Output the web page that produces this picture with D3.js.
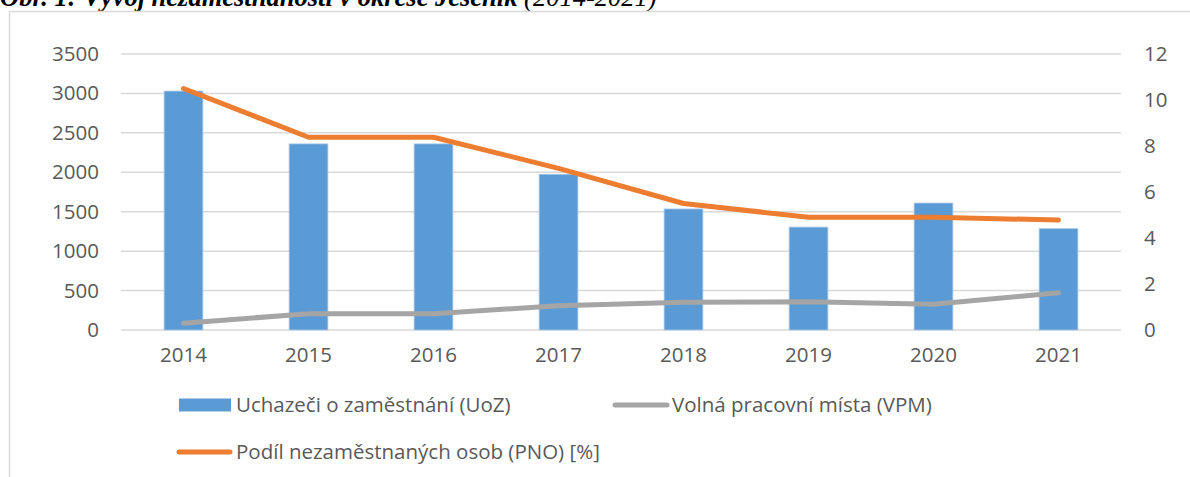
<!DOCTYPE html>
<html>
<head>
<meta charset="utf-8">
<script src="https://cdn.jsdelivr.net/npm/d3@7.9.0/dist/d3.min.js"></script>
<style>
  html, body { margin: 0; padding: 0; background: #fff; }
  svg { display: block; }
</style>
</head>
<body>
<div id="chart"></div>
<script>
// data
const years = ["2014", "2015", "2016", "2017", "2018", "2019", "2020", "2021"];
const uoz = [3030, 2360, 2360, 1975, 1535, 1305, 1610, 1285];   // bars, left axis
const vpm = [85, 207, 207, 308, 351, 359, 326, 473];             // grey line, left axis
const pno = [10.5, 8.38, 8.38, 7.03, 5.5, 4.9, 4.9, 4.78];      // orange line, right axis
const leftTicks = [0, 500, 1000, 1500, 2000, 2500, 3000, 3500];
const rightTicks = [0, 2, 4, 6, 8, 10, 12];

const W = 1190, H = 477;
const plot = { left: 121, right: 1121, top: 54, bottom: 330 };
const font = "'Open Sans', 'Noto Sans', sans-serif";
const fontSize = "20.5px";
const textColor = "#595959";

const svg = d3.select("#chart").append("svg")
  .attr("width", W)
  .attr("height", H);

// caption (cut off at the top in the original)
const cap = svg.append("text")
  .attr("x", 0)
  .attr("y", 6)
  .style("font-family", "'Liberation Serif', 'DejaVu Serif', serif")
  .style("font-style", "italic")
  .style("font-size", "26.5px")
  .attr("fill", "#000");
cap.append("tspan").style("font-weight", "bold")
  .text("Obr. 1: Vývoj nezaměstnanosti v okrese Jeseník ");
cap.append("tspan").text("(2014-2021)");

// chart frame, runs past the right and bottom edge
svg.append("rect")
  .attr("x", 9.5)
  .attr("y", 11.5)
  .attr("width", W + 20)
  .attr("height", H + 20)
  .attr("fill", "none")
  .attr("stroke", "#d9d9d9")
  .attr("stroke-width", 1.5);

// scales
const x = d3.scaleBand()
  .domain(years)
  .range([plot.left, plot.right]);

const xBar = d3.scaleBand()
  .domain(years)
  .range([plot.left, plot.right])
  .paddingInner(0.69)
  .paddingOuter(0.345);

const yL = d3.scaleLinear().domain([0, 3500]).range([plot.bottom, plot.top]);
const yR = d3.scaleLinear().domain([0, 12]).range([plot.bottom, plot.top]);

// gridlines
svg.append("g")
  .selectAll("line")
  .data(leftTicks)
  .join("line")
    .attr("x1", plot.left)
    .attr("x2", plot.right)
    .attr("y1", d => yL(d))
    .attr("y2", d => yL(d))
    .attr("stroke", "#d9d9d9")
    .attr("stroke-width", 1.5);

// left axis labels
const axisL = svg.append("g")
  .attr("transform", `translate(${plot.left - 22},0)`)
  .call(d3.axisLeft(yL).tickValues(leftTicks).tickFormat(d3.format("d")).tickSize(0).tickPadding(0));
axisL.select(".domain").remove();
axisL.selectAll("text")
  .style("font-family", font)
  .style("font-size", fontSize)
  .attr("fill", textColor);

// right axis labels
const axisR = svg.append("g")
  .attr("transform", `translate(${plot.right + 23},0)`)
  .call(d3.axisRight(yR).tickValues(rightTicks).tickFormat(d3.format("d")).tickSize(0).tickPadding(0));
axisR.select(".domain").remove();
axisR.selectAll("text")
  .style("font-family", font)
  .style("font-size", fontSize)
  .attr("fill", textColor);

// bottom axis labels
const axisB = svg.append("g")
  .attr("transform", `translate(0,${plot.bottom + 17})`)
  .call(d3.axisBottom(x).tickSize(0).tickPadding(0));
axisB.select(".domain").remove();
axisB.selectAll("text")
  .attr("dy", "0.71em")
  .style("font-family", font)
  .style("font-size", fontSize)
  .attr("fill", textColor);

// bars
svg.append("g")
  .selectAll("rect")
  .data(years)
  .join("rect")
    .attr("x", d => xBar(d))
    .attr("width", xBar.bandwidth())
    .attr("y", (d, i) => yL(uoz[i]))
    .attr("height", (d, i) => yL(0) - yL(uoz[i]))
    .attr("fill", "#5b9bd5")
    .attr("stroke", "#a9c8ea")
    .attr("stroke-width", 0.8);

// lines
const cx = d => x(d) + x.bandwidth() / 2;

const lineVpm = d3.line()
  .x((d, i) => cx(years[i]))
  .y(d => yL(d));

const linePno = d3.line()
  .x((d, i) => cx(years[i]))
  .y(d => yR(d));

svg.append("path")
  .datum(vpm)
  .attr("fill", "none")
  .attr("stroke", "#a5a5a5")
  .attr("stroke-width", 5)
  .attr("stroke-linecap", "round")
  .attr("stroke-linejoin", "round")
  .attr("d", lineVpm);

svg.append("path")
  .datum(pno)
  .attr("fill", "none")
  .attr("stroke", "#ed7d31")
  .attr("stroke-width", 5)
  .attr("stroke-linecap", "round")
  .attr("stroke-linejoin", "round")
  .attr("d", linePno);

// legend
const legend = svg.append("g")
  .style("font-family", font)
  .style("font-size", fontSize)
  .attr("fill", textColor);

const itemBar = legend.append("g").attr("transform", "translate(179,405)");
itemBar.append("rect")
  .attr("x", 0).attr("y", -6.5)
  .attr("width", 52).attr("height", 13)
  .attr("fill", "#5b9bd5");
itemBar.append("text")
  .attr("x", 57).attr("dy", "0.35em")
  .text("Uchazeči o zaměstnání (UoZ)");

const itemVpm = legend.append("g").attr("transform", "translate(613,405)");
itemVpm.append("line")
  .attr("x1", 2).attr("x2", 54)
  .attr("stroke", "#a5a5a5").attr("stroke-width", 5)
  .attr("stroke-linecap", "round");
itemVpm.append("text")
  .attr("x", 59).attr("dy", "0.35em")
  .text("Volná pracovní místa (VPM)");

const itemPno = legend.append("g").attr("transform", "translate(177,452)");
itemPno.append("line")
  .attr("x1", 2).attr("x2", 53)
  .attr("stroke", "#ed7d31").attr("stroke-width", 5)
  .attr("stroke-linecap", "round");
itemPno.append("text")
  .attr("x", 59).attr("dy", "0.35em")
  .text("Podíl nezaměstnaných osob (PNO) [%]");
</script>
</body>
</html>
